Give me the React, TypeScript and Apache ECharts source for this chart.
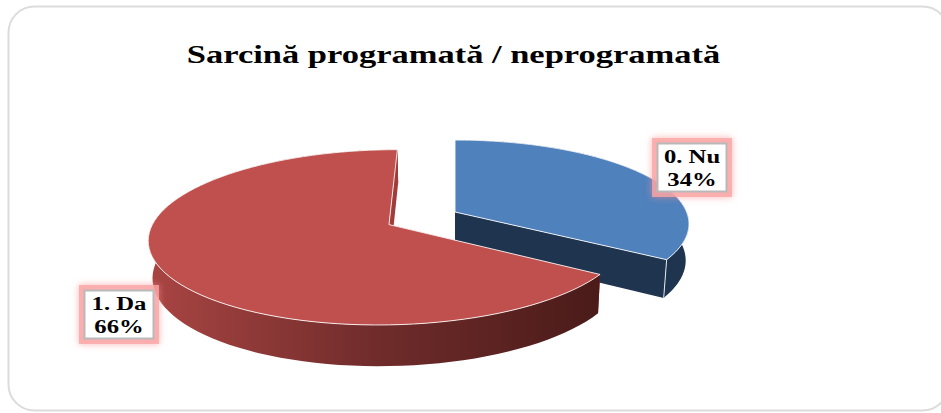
import React, { useEffect, useRef } from "react";
import * as echarts from "echarts";

const categories = ["0. Nu", "1. Da"];
const shares = [34, 66];
const chartTitle = "Sarcină programată / neprogramată";

// Perspective of the tilted pie.
const VANISH_X = 455;
const TOP_Y = 212;
const TOP_DEPTH = 82.2;
const BASE_Y = 248;
const BASE_DEPTH = 86;
const BASE_SHRINK = 0.986;
const RADIUS_X = 231.6;
const TILT = 0.142;
const STEPS = 90;

// Explosion of each slice on the ground plane, and its colours.
const sliceLook = [
  {
    offsetX: 0,
    offsetV: 0,
    top: "#4f81bd",
    face: "#1f344f",
    wall: () => "#1f344f",
  },
  {
    offsetX: -64.6,
    offsetV: -0.15,
    top: "#c0504d",
    face: "#a23c3a",
    wall: () =>
      new echarts.graphic.LinearGradient(0, 0, 1, 0, [
        { offset: 0, color: "#a94543" },
        { offset: 0.5, color: "#702c2b" },
        { offset: 1, color: "#4a1b19" },
      ]),
  },
];

// Callout boxes beside each slice.
const calloutBoxes = [
  { x: 657.5, y: 143.5, width: 69, height: 48 },
  { x: 84.5, y: 290.5, width: 69, height: 48 },
];

const project = (X: number, V: number, base: boolean): number[] => {
  const s = 1 / (1 + TILT * V);
  return base
    ? [VANISH_X + BASE_SHRINK * X * s, BASE_Y - BASE_DEPTH * V * s]
    : [VANISH_X + X * s, TOP_Y - TOP_DEPTH * V * s];
};

const sliceAngles = (index: number) => {
  const total = shares.reduce((a, b) => a + b, 0);
  const before = shares.slice(0, index).reduce((a, b) => a + b, 0);
  return [
    (before / total) * Math.PI * 2,
    ((before + shares[index]) / total) * Math.PI * 2,
  ];
};

const renderSlice = (params: any) => {
  const i = params.dataIndex;
  const look = sliceLook[i];
  const [from, to] = sliceAngles(i);
  const rim = (t: number, base: boolean) =>
    project(look.offsetX + RADIUS_X * Math.sin(t), look.offsetV + Math.cos(t), base);
  const apex = (base: boolean) => project(look.offsetX, look.offsetV, base);

  const topArc: number[][] = [];
  const baseArc: number[][] = [];
  for (let k = 0; k <= STEPS; k++) {
    const t = from + ((to - from) * k) / STEPS;
    topArc.push(rim(t, false));
    baseArc.push(rim(t, true));
  }
  const edge = { stroke: "rgba(255,255,255,0.85)", lineWidth: 1 };
  const cutFace = (t: number) => ({
    type: "polygon",
    shape: { points: [apex(false), rim(t, false), rim(t, true), apex(true)] },
    style: { fill: look.face },
  });
  return {
    type: "group",
    children: [
      cutFace(from),
      {
        type: "polygon",
        shape: { points: [...topArc, ...baseArc.slice().reverse()] },
        style: { fill: look.wall() },
      },
      cutFace(to),
      {
        type: "line",
        shape: {
          x1: topArc[STEPS][0],
          y1: topArc[STEPS][1],
          x2: baseArc[STEPS][0],
          y2: baseArc[STEPS][1],
        },
        style: i === 0 ? edge : { stroke: "transparent" },
      },
      {
        type: "polygon",
        shape: { points: [apex(false), ...topArc] },
        style: { fill: look.top, ...edge },
      },
    ],
  };
};

const renderCallout = (params: any) => {
  const i = params.dataIndex;
  const box = calloutBoxes[i];
  return {
    type: "group",
    children: [
      {
        type: "rect",
        shape: { x: box.x - 2.5, y: box.y - 2.5, width: box.width + 5, height: box.height + 5 },
        style: {
          fill: "none",
          stroke: "rgba(250,165,165,0.8)",
          lineWidth: 6,
          shadowBlur: 7,
          shadowColor: "rgba(250,140,140,0.85)",
        },
      },
      {
        type: "rect",
        shape: { x: box.x, y: box.y, width: box.width, height: box.height },
        style: { fill: "#ffffff", stroke: "#b9b9b9", lineWidth: 2 },
      },
      {
        type: "text",
        x: box.x + box.width / 2,
        y: box.y + box.height / 2 + 1,
        scaleX: 1.3,
        style: {
          text: `${categories[i]}\n${shares[i]}%`,
          x: 0,
          y: 0,
          align: "center",
          verticalAlign: "middle",
          fill: "#000000",
          font: "bold 19px 'Liberation Serif'",
          lineHeight: 23,
        },
      },
    ],
  };
};

export default function App() {
  const ref = useRef<HTMLDivElement>(null);

  useEffect(() => {
    const chart = echarts.init(ref.current!, undefined, { renderer: "svg" });
    chart.setOption({
      animation: false,
      backgroundColor: "#ffffff",
      graphic: [
        {
          type: "rect",
          z: 0,
          shape: { x: 8.5, y: 6.5, width: 940, height: 404, r: 26 },
          style: { fill: "#ffffff", stroke: "#dcdcdc", lineWidth: 2 },
        },
        {
          type: "text",
          z: 10,
          x: 453.5,
          y: 55,
          scaleX: 1.38,
          style: {
            text: chartTitle,
            x: 0,
            y: 0,
            align: "center",
            verticalAlign: "middle",
            fill: "#000000",
            font: "bold 25px 'Liberation Serif'",
          },
        },
      ],
      series: [
        {
          type: "custom",
          coordinateSystem: "none",
          z: 2,
          silent: true,
          data: shares.map((value, i) => ({ name: categories[i], value })),
          renderItem: renderSlice,
        },
        {
          type: "custom",
          coordinateSystem: "none",
          z: 3,
          silent: true,
          data: shares.map((value, i) => ({ name: categories[i], value })),
          renderItem: renderCallout,
        },
      ],
    });
    return () => chart.dispose();
  }, []);

  return (
    <div
      ref={ref}
      style={{ position: "fixed", left: 0, top: 0, width: 941, height: 413, background: "#fff" }}
    />
  );
}
